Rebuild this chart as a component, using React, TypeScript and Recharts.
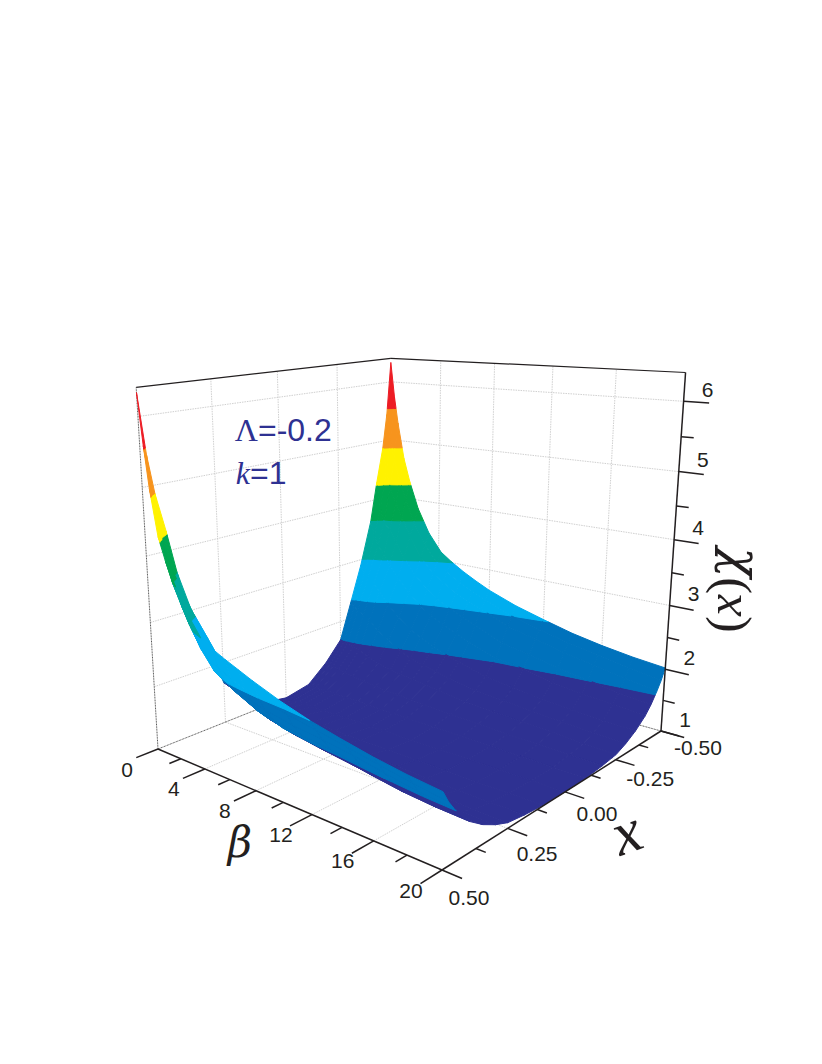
import { ScatterChart, Scatter, XAxis, YAxis } from "recharts";

const WIDTH = 822;
const HEIGHT = 1064;

// grid of the surface
const BETAS = [0, 0.3, 0.6, 1.1, 1.6, 2.3, 3.2, 4.2, 5, 6, 7, 8, 10, 12, 14, 16, 18, 20];
const ABS_X = [0, 0.1, 0.18, 0.25, 0.3, 0.35, 0.4, 0.43, 0.46, 0.48, 0.5];

// chi on the x < 0 side, one row per beta
const CHI_REAR = [
  [1, 1.08, 1.35, 1.67, 2.28, 2.9, 3.64, 4.3, 4.88, 5.45, 6.33],
  [1, 1.08, 1.33, 1.65, 2.22, 2.75, 3.4, 3.85, 4.5, 5.0, 5.75],
  [1, 1.07, 1.32, 1.63, 2.18, 2.7, 3.22, 3.6, 4.2, 4.7, 5.3],
  [1, 1.07, 1.3, 1.6, 2.12, 2.62, 3.11, 3.5, 3.95, 4.3, 4.7],
  [1, 1.07, 1.28, 1.57, 2.05, 2.5, 2.92, 3.3, 3.72, 4.0, 4.3],
  [1, 1.07, 1.25, 1.5, 1.9, 2.3, 2.72, 3.05, 3.4, 3.62, 3.85],
  [1, 1.06, 1.22, 1.44, 1.78, 2.12, 2.5, 2.78, 3.05, 3.25, 3.45],
  [1, 1.06, 1.2, 1.38, 1.64, 1.95, 2.3, 2.58, 2.82, 2.99, 3.15],
  [1, 1.05, 1.18, 1.35, 1.56, 1.85, 2.18, 2.44, 2.7, 2.86, 3.02],
  [1, 1.05, 1.17, 1.32, 1.5, 1.76, 2.07, 2.32, 2.56, 2.72, 2.88],
  [1, 1.05, 1.15, 1.29, 1.45, 1.67, 1.97, 2.22, 2.46, 2.61, 2.76],
  [1, 1.04, 1.14, 1.26, 1.4, 1.6, 1.88, 2.13, 2.37, 2.51, 2.65],
  [1, 1.04, 1.11, 1.21, 1.32, 1.47, 1.72, 1.94, 2.18, 2.33, 2.48],
  [1, 1.03, 1.09, 1.18, 1.28, 1.42, 1.66, 1.85, 2.07, 2.21, 2.35],
  [1, 1.02, 1.07, 1.15, 1.24, 1.36, 1.56, 1.75, 1.96, 2.1, 2.23],
  [1, 1.02, 1.06, 1.13, 1.21, 1.32, 1.5, 1.68, 1.88, 2.02, 2.14],
  [1, 1.01, 1.05, 1.1, 1.18, 1.29, 1.46, 1.6, 1.79, 1.93, 2.07],
  [1, 1.01, 1.04, 1.08, 1.16, 1.27, 1.42, 1.55, 1.72, 1.85, 2.02],
];

// chi on the x > 0 side, steeper close to the ridge
const CHI_FRONT = [
  [1, 1.08, 1.35, 1.67, 2.28, 2.9, 3.64, 4.3, 4.88, 5.45, 6.33],
  [1, 1.08, 1.33, 1.65, 2.22, 2.75, 3.4, 3.85, 4.45, 4.85, 5.6],
  [1, 1.07, 1.32, 1.63, 2.18, 2.7, 3.22, 3.55, 4.05, 4.5, 5.0],
  [1, 1.07, 1.3, 1.6, 2.12, 2.62, 3.11, 3.45, 3.8, 4.05, 4.33],
  [1, 1.07, 1.28, 1.55, 1.95, 2.35, 2.75, 3.05, 3.38, 3.65, 4.0],
  [1, 1.07, 1.25, 1.48, 1.8, 2.15, 2.5, 2.75, 3.05, 3.32, 3.67],
  [1, 1.06, 1.22, 1.4, 1.66, 1.95, 2.28, 2.5, 2.72, 2.96, 3.3],
  [1, 1.05, 1.17, 1.34, 1.55, 1.81, 2.12, 2.26, 2.45, 2.68, 3.0],
  [1, 1.05, 1.15, 1.3, 1.49, 1.72, 2.0, 2.16, 2.36, 2.58, 2.9],
  [1, 1.04, 1.13, 1.26, 1.44, 1.65, 1.9, 2.06, 2.26, 2.48, 2.8],
  [1, 1.04, 1.12, 1.23, 1.4, 1.6, 1.83, 1.99, 2.19, 2.4, 2.71],
  [1, 1.03, 1.1, 1.2, 1.37, 1.55, 1.76, 1.92, 2.13, 2.33, 2.62],
  [1, 1.03, 1.09, 1.18, 1.31, 1.48, 1.69, 1.85, 2.05, 2.24, 2.46],
  [1, 1.02, 1.07, 1.15, 1.25, 1.42, 1.63, 1.8, 2.0, 2.16, 2.33],
  [1, 1.02, 1.06, 1.13, 1.22, 1.36, 1.55, 1.72, 1.93, 2.08, 2.23],
  [1, 1.01, 1.05, 1.11, 1.19, 1.31, 1.48, 1.65, 1.85, 2.0, 2.14],
  [1, 1.01, 1.04, 1.09, 1.17, 1.28, 1.44, 1.58, 1.77, 1.92, 2.07],
  [1, 1.01, 1.04, 1.08, 1.16, 1.27, 1.42, 1.55, 1.72, 1.85, 2.02],
];

const LEVELS = [-10, 1.67, 2.33, 3, 3.65, 4.25, 4.88, 5.55, 100];
const BAND_COLORS = ["#2e3192", "#0072bc", "#00aeef", "#00a99d", "#00a651", "#fff200", "#f7941d", "#ed1c24"];

const BETA_MAJOR = [0, 4, 8, 12, 16, 20];
const BETA_MINOR = [2, 6, 10, 14, 18];
const X_MAJOR = [-0.5, -0.25, 0, 0.25, 0.5];
const X_MINOR = [-0.375, -0.125, 0.125, 0.375];
const Z_MAJOR = [1, 2, 3, 4, 5, 6];
const Z_MINOR = [1.5, 2.5, 3.5, 4.5, 5.5];
const X_LABELS = ["-0.50", "-0.25", "0.00", "0.25", "0.50"];

const Z_FLOOR = 1;
const Z_TOP = 6.4;
const BETA_MAX = 20;

type P3 = [number, number, number];
type Pt = { px: number; py: number };

// camera: homogeneous columns fitted to the corners of the box
function project(beta: number, x: number, chi: number): Pt {
  const u = beta / BETA_MAX;
  const v = 0.5 - x;
  const w = (chi - Z_FLOOR) / (Z_TOP - Z_FLOOR);
  const hx = 158 + u * (0.7893 * 442 - 158) + v * (1.2228 * 391 - 158) + w * -33.4;
  const hy = 749 + u * (0.7893 * 870 - 749) + v * (1.2228 * 656 - 749) + w * -394.5;
  const hw = 1 + u * (0.7893 - 1) + v * (1.2228 - 1) + w * -0.085;
  return { px: hx / hw, py: hy / hw };
}

// keep the part of a polygon on one side of a chi level
function clip(poly: P3[], level: number, keepAbove: boolean): P3[] {
  const out: P3[] = [];
  const inside = (p: P3) => (keepAbove ? p[2] >= level : p[2] <= level);
  poly.forEach((a, i) => {
    const b = poly[(i + 1) % poly.length];
    if (inside(a)) out.push(a);
    if (inside(a) !== inside(b)) {
      const t = (level - a[2]) / (b[2] - a[2]);
      out.push([a[0] + t * (b[0] - a[0]), a[1] + t * (b[1] - a[1]), level]);
    }
  });
  return out;
}

const SIGNED_X = [...ABS_X.slice(1).reverse().map((v) => -v), ...ABS_X];
const MID = ABS_X.length - 1;
const chiAt = (row: number, col: number) =>
  col < MID ? CHI_REAR[row][MID - col] : CHI_FRONT[row][col - MID];

// back to front: beta going up, x from -0.5 to 0.5
const patches: { color: string; points: Pt[] }[] = [];
for (let r = 0; r < BETAS.length - 1; r++) {
  for (let c = 0; c < SIGNED_X.length - 1; c++) {
    const cell: P3[] = [
      [BETAS[r], SIGNED_X[c], chiAt(r, c)],
      [BETAS[r], SIGNED_X[c + 1], chiAt(r, c + 1)],
      [BETAS[r + 1], SIGNED_X[c + 1], chiAt(r + 1, c + 1)],
      [BETAS[r + 1], SIGNED_X[c], chiAt(r + 1, c)],
    ];
    BAND_COLORS.forEach((color, b) => {
      const part = clip(clip(cell, LEVELS[b], true), LEVELS[b + 1], false);
      if (part.length > 2) {
        const points = part.map((p) => project(p[0], p[1], p[2]));
        patches.push({ color, points: [...points, points[0]] });
      }
    });
  }
}

const hidePoint = () => null;

function seg(key: string, a: P3, b: P3, stroke: string, strokeWidth: number, dash?: string) {
  return (
    <Scatter
      key={key}
      data={[project(...a), project(...b)]}
      shape={hidePoint}
      line={{ stroke, strokeWidth, strokeDasharray: dash, fill: "none" }}
      isAnimationActive={false}
    />
  );
}

function label(key: string, at: Pt, dx: number, dy: number, content: React.ReactNode, extra: Record<string, unknown> = {}) {
  const rotate = extra.rotate as number | undefined;
  const { rotate: _r, ...rest } = extra;
  return (
    <Scatter
      key={key}
      data={[at]}
      isAnimationActive={false}
      shape={(p: any) => {
        const tx = p.cx + dx;
        const ty = p.cy + dy;
        return (
          <text
            x={tx}
            y={ty}
            textAnchor="middle"
            dominantBaseline="central"
            fontFamily="'Liberation Sans', Arial, sans-serif"
            fontSize={21}
            fill="#231f20"
            transform={rotate ? `rotate(${rotate} ${tx} ${ty})` : undefined}
            {...rest}
          >
            {content}
          </text>
        );
      }}
    />
  );
}

const GRID = "#d0d0d0";
const INK = "#231f20";
const SERIF = "'Liberation Serif', 'DejaVu Serif', serif";
const DEJAVU = "'DejaVu Serif', serif";

export default function App() {
  return (
    <div style={{ position: "absolute", left: 0, top: 0, background: "#fff" }}>
      <ScatterChart width={WIDTH} height={HEIGHT} margin={{ top: 0, right: 0, bottom: 0, left: 0 }}>
        <XAxis type="number" dataKey="px" domain={[0, WIDTH]} hide />
        <YAxis type="number" dataKey="py" domain={[0, HEIGHT]} reversed hide />

        {/* walls and floor */}
        {Z_MAJOR.slice(1).map((z) => seg(`gl${z}`, [0, 0.5, z], [0, -0.5, z], GRID, 1, "1.5 1"))}
        {Z_MAJOR.slice(1).map((z) => seg(`gr${z}`, [0, -0.5, z], [20, -0.5, z], GRID, 1, "1.5 1"))}
        {X_MAJOR.slice(1, 4).map((x) => seg(`gv${x}`, [0, x, Z_FLOOR], [0, x, Z_TOP], GRID, 1, "1.5 1"))}
        {X_MAJOR.slice(1, 4).map((x) => seg(`gf${x}`, [0, x, Z_FLOOR], [20, x, Z_FLOOR], GRID, 1, "1.5 1"))}
        {BETA_MAJOR.slice(1, 5).map((b) => seg(`gb${b}`, [b, -0.5, Z_FLOOR], [b, -0.5, Z_TOP], GRID, 1, "1.5 1"))}
        {BETA_MAJOR.slice(1, 5).map((b) => seg(`gc${b}`, [b, 0.5, Z_FLOOR], [b, -0.5, Z_FLOOR], GRID, 1, "1.5 1"))}

        {/* box edges */}
        {seg("e1", [0, 0.5, Z_FLOOR], [0, 0.5, Z_TOP], "#555", 1, "1 0.6")}
        {seg("e2", [0, 0.5, Z_FLOOR], [0, -0.5, Z_FLOOR], "#555", 1, "1 0.6")}
        {seg("e3", [20, -0.5, Z_FLOOR], [0, -0.5, Z_FLOOR], "#555", 1, "1 0.6")}
        {seg("e4", [0, 0.5, Z_TOP], [0, -0.5, Z_TOP], INK, 1.2)}
        {seg("e5", [0, -0.5, Z_TOP], [20, -0.5, Z_TOP], INK, 1.2)}

        {/* surface */}
        {patches.map((patch, i) => (
          <Scatter
            key={`s${i}`}
            data={patch.points}
            shape={hidePoint}
            line={{ fill: patch.color, stroke: patch.color, strokeWidth: 1, strokeLinejoin: "round" }}
            isAnimationActive={false}
          />
        ))}

        {/* axes */}
        {seg("a1", [0, 0.5, Z_FLOOR], [20, 0.5, Z_FLOOR], INK, 1.5)}
        {seg("a2", [20, 0.5, Z_FLOOR], [20, -0.5, Z_FLOOR], INK, 1.5)}
        {seg("a3", [20, -0.5, Z_FLOOR], [20, -0.5, Z_TOP], INK, 1.5)}
        {BETA_MAJOR.map((b) => seg(`tb${b}`, [b, 0.5, Z_FLOOR], [b, 0.575, Z_FLOOR], INK, 1.5))}
        {BETA_MINOR.map((b) => seg(`mb${b}`, [b, 0.5, Z_FLOOR], [b, 0.54, Z_FLOOR], INK, 1.5))}
        {X_MAJOR.map((x) => seg(`tx${x}`, [20, x, Z_FLOOR], [21.1, x, Z_FLOOR], INK, 1.5))}
        {X_MINOR.map((x) => seg(`mx${x}`, [20, x, Z_FLOOR], [20.55, x, Z_FLOOR], INK, 1.5))}
        {Z_MAJOR.map((z) => seg(`tz${z}`, [20, -0.5, z], [21.4, -0.5, z], INK, 1.5))}
        {Z_MINOR.map((z) => seg(`mz${z}`, [20, -0.5, z], [20.7, -0.5, z], INK, 1.5))}

        {/* tick labels */}
        {BETA_MAJOR.map((b) => label(`lb${b}`, project(b, 0.5, Z_FLOOR), -31, 20, String(b)))}
        {X_MAJOR.map((x, i) => label(`lx${x}`, project(20, x, Z_FLOOR), 32 - 10 * x, 22 + 11 * x, X_LABELS[i]))}
        {Z_MAJOR.map((z) => label(`lz${z}`, project(20, -0.5, z), 24, -12, String(z)))}

        {/* axis titles */}
        {label("tb", project(8, 0.5, Z_FLOOR), -16, 52, "β", { fontFamily: DEJAVU, fontStyle: "italic", fontSize: 42 })}
        {label("tx", project(20, 0.05, Z_FLOOR), 72, 33, "x", { fontFamily: SERIF, fontStyle: "italic", fontSize: 62, rotate: -20 })}
        {label("tz", project(20, -0.5, 3.5), 52, 17, <><tspan>(</tspan><tspan fontStyle="italic">x</tspan><tspan>)</tspan><tspan fontFamily={DEJAVU} fontStyle="italic">χ</tspan></>, { fontFamily: SERIF, fontSize: 50, rotate: -90 })}

        {/* annotation */}
        {label("a", project(0, 0, 5.6), 4, 7, <><tspan fontFamily={SERIF}>Λ</tspan>=-0.2</>, { fontSize: 32, fill: "#2e3192", textAnchor: "start", dx: -48 })}
        {label("k", project(0, 0, 5), -26, 12, <><tspan fontFamily={SERIF} fontStyle="italic">k</tspan>=1</>, { fontSize: 32, fill: "#2e3192", textAnchor: "start", dx: -18 })}
      </ScatterChart>
    </div>
  );
}
